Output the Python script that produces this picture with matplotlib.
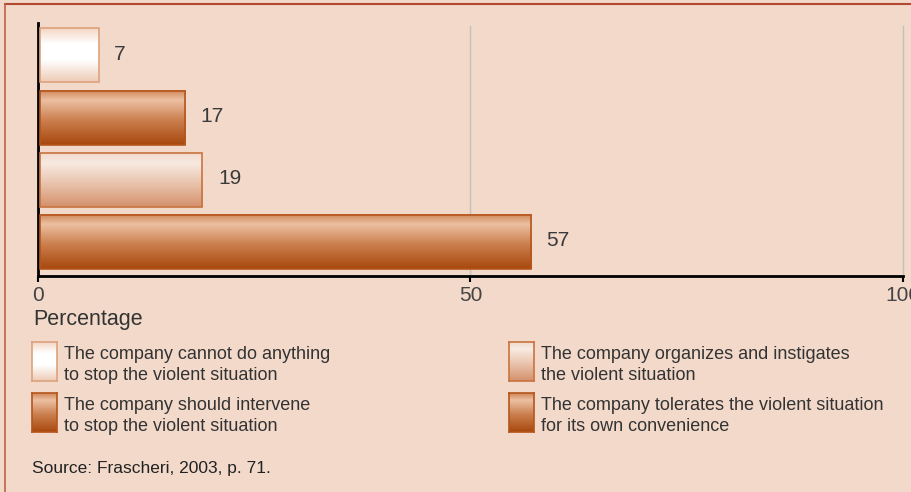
import numpy as np
import matplotlib.pyplot as plt
from matplotlib.colors import to_rgb
from matplotlib.lines import Line2D

plt.rcParams['font.family'] = ['Liberation Sans', 'DejaVu Sans']

values = [7, 17, 19, 57]
labels = ['The company cannot do anything\nto stop the violent situation',
          'The company should intervene\nto stop the violent situation',
          'The company organizes and instigates\nthe violent situation',
          'The company tolerates the violent situation\nfor its own convenience']
ticks = [0, 50, 100]

bg = '#F2D9CA'

# gradient stops (position 0=top .. 1=bottom, colour)
grad_white = [(0, '#F3D3BF'), (0.3, '#FFFFFF'), (0.6, '#FFFFFF'), (1, '#EECBB6')]
grad_dark = [(0, '#D0885A'), (0.18, '#ECC0A2'), (0.55, '#CB7F4E'), (1, '#A8480E')]
grad_light = [(0, '#F1D9CA'), (0.2, '#F8EAE2'), (0.6, '#E8C0A8'), (1, '#D4916C')]
grads = [grad_white, grad_dark, grad_light, grad_dark]
edges = ['#DDA27E', '#B5561C', '#C9733F', '#B5561C']


def gradient(stops, n=100):
    pos = [s[0] for s in stops]
    cols = np.array([to_rgb(s[1]) for s in stops])
    t = np.linspace(0, 1, n)
    arr = np.stack([np.interp(t, pos, cols[:, k]) for k in range(3)], axis=1)
    return arr[:, None, :]


fig = plt.figure(figsize=(9.12, 4.92), dpi=100, facecolor=bg)
W, H = 912, 492

ax = fig.add_axes([38 / W, 1 - 276 / H, (903 - 38) / W, (276 - 23) / H])
ax.set_facecolor(bg)

h = 0.87
for i, v in enumerate(values):
    ax.imshow(gradient(grads[i]), extent=(0.2, v, i + h / 2, i - h / 2),
              origin='upper', aspect='auto', zorder=2)
    ax.add_patch(plt.Rectangle((0.2, i - h / 2), v - 0.2, h, fill=False,
                               edgecolor=edges[i], linewidth=1.2, zorder=3))
    ax.text(v + 1.8, i - 0.02, str(v), va='center', ha='left', fontsize=15,
            color='#3a3a3a')

for g in [50, 100]:
    ax.plot([g, g], [-0.47, 3.545], color='#C4C0BC', linewidth=1, zorder=1,
            clip_on=False)

ax.set_xlim(0, 100)
ax.set_ylim(3.545, -0.52)
ax.set_xticks(ticks)
ax.set_xticklabels([str(t) for t in ticks], fontsize=15, color='#444444')
ax.set_yticks([])
ax.tick_params(axis='x', length=4, width=1.5, color='black', pad=3)
for s in ['top', 'right']:
    ax.spines[s].set_visible(False)
ax.spines['left'].set_linewidth(2)
ax.spines['bottom'].set_linewidth(2)

fig.text(33 / W, 1 - 320 / H, 'Percentage', fontsize=15.5, color='#333333',
         va='center', ha='left')

# legend
leg_pos = [(32, 342), (32, 393), (509, 342), (509, 393)]
for i, (px, py) in enumerate(leg_pos):
    lax = fig.add_axes([px / W, 1 - (py + 39) / H, 25 / W, 39 / H])
    lax.imshow(gradient(grads[i]), aspect='auto', extent=(0, 1, 0, 1))
    lax.set_xlim(0, 1)
    lax.set_ylim(0, 1)
    lax.set_xticks([])
    lax.set_yticks([])
    for s in lax.spines.values():
        s.set_edgecolor(edges[i])
        s.set_linewidth(1.2)
    fig.text((px + 32) / W, 1 - (py + 23) / H, labels[i], fontsize=13,
             color='#333333', va='center', ha='left', linespacing=1.3)

fig.text(32 / W, 1 - 468 / H, 'Source: Frascheri, 2003, p. 71.', fontsize=12.5,
         color='#222222', va='center', ha='left')

# frame lines
fig.add_artist(Line2D([5 / W, 1], [1 - 3.5 / H, 1 - 3.5 / H], color='#B24A32',
                      linewidth=1.5))
fig.add_artist(Line2D([5 / W, 5 / W], [0, 1 - 3.5 / H], color='#C0604A',
                      linewidth=1.2))

fig.savefig('out.png', dpi=100, facecolor=bg)
